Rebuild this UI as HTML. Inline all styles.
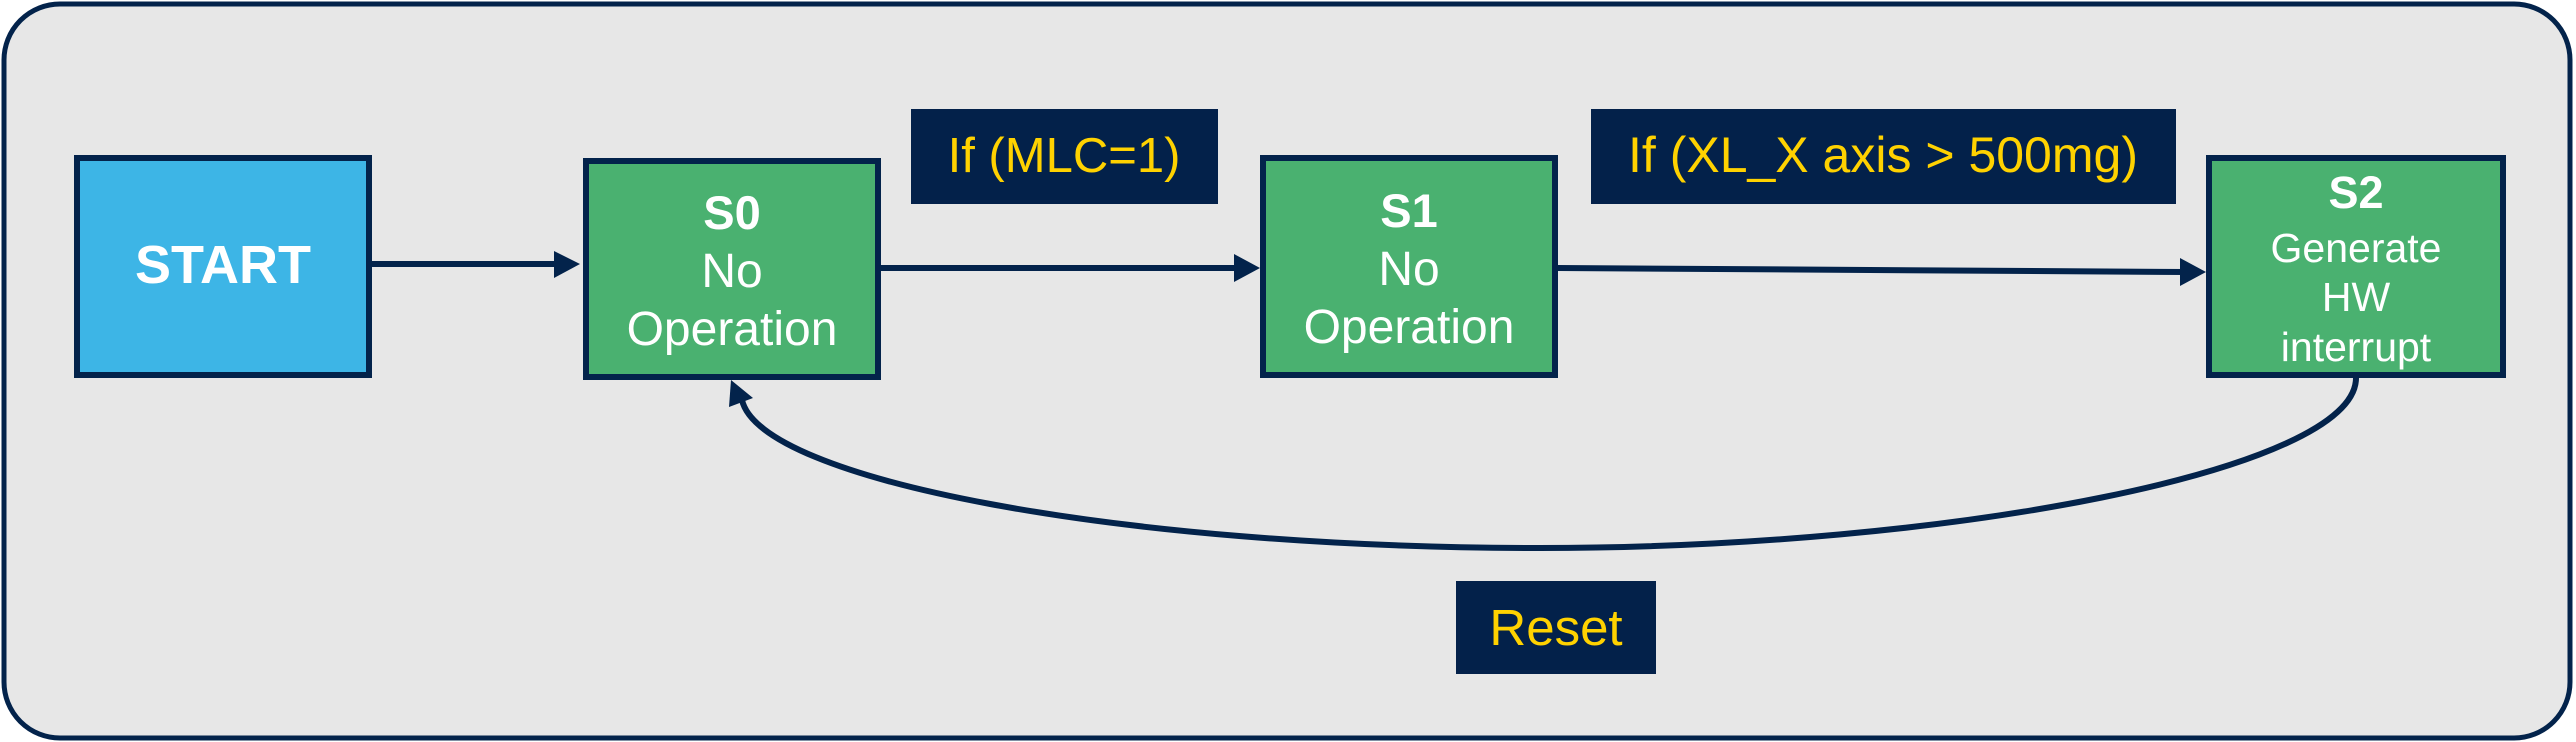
<!DOCTYPE html>
<html><head><meta charset="utf-8"><style>
html,body{margin:0;padding:0;background:#fff;}
svg{display:block;}
text{font-family:"Liberation Sans",Arial,sans-serif;}
</style></head><body>
<svg width="2576" height="742" viewBox="0 0 2576 742" xmlns="http://www.w3.org/2000/svg">
<rect x="4" y="4" width="2566" height="734" rx="56" ry="56" fill="#e7e7e7" stroke="#03234b" stroke-width="5"/>
<rect x="77" y="158" width="292" height="217" fill="#3db5e6" stroke="#03234b" stroke-width="6"/>
<text x="223" y="283" font-size="54" font-weight="bold" fill="#fff" text-anchor="middle">START</text>

<rect x="586" y="161" width="292" height="216" fill="#4ab170" stroke="#03234b" stroke-width="6"/>
<text x="732" y="229" font-size="47" font-weight="bold" fill="#fff" text-anchor="middle">S0</text>
<text x="732" y="287" font-size="48" fill="#fff" text-anchor="middle">No</text>
<text x="732" y="345" font-size="48" fill="#fff" text-anchor="middle">Operation</text>

<rect x="1263" y="158" width="292" height="217" fill="#4ab170" stroke="#03234b" stroke-width="6"/>
<text x="1409" y="227" font-size="47" font-weight="bold" fill="#fff" text-anchor="middle">S1</text>
<text x="1409" y="285" font-size="48" fill="#fff" text-anchor="middle">No</text>
<text x="1409" y="343" font-size="48" fill="#fff" text-anchor="middle">Operation</text>

<rect x="2209" y="158" width="294" height="217" fill="#4ab170" stroke="#03234b" stroke-width="6"/>
<text x="2356" y="208" font-size="45" font-weight="bold" fill="#fff" text-anchor="middle">S2</text>
<text x="2356" y="262" font-size="41" fill="#fff" text-anchor="middle">Generate</text>
<text x="2356" y="311" font-size="41" fill="#fff" text-anchor="middle">HW</text>
<text x="2356" y="361" font-size="41" fill="#fff" text-anchor="middle">interrupt</text>

<rect x="911" y="109" width="307" height="95" fill="#03214a"/>
<text x="1064" y="172" font-size="49" fill="#ffd200" text-anchor="middle">If (MLC=1)</text>
<rect x="1591" y="109" width="585" height="95" fill="#03214a"/>
<text x="1883" y="172" font-size="50" fill="#ffd200" text-anchor="middle">If (XL_X axis &gt; 500mg)</text>
<rect x="1456" y="581" width="200" height="93" fill="#03214a"/>
<text x="1556" y="645" font-size="51" fill="#ffd200" text-anchor="middle">Reset</text>

<g stroke="#03234b" stroke-width="6" fill="none">
<line x1="372" y1="264" x2="562" y2="264"/>
<line x1="881" y1="268" x2="1240" y2="268"/>
<line x1="1558" y1="268" x2="2186" y2="272"/>
<path d="M2356 378 C2356 470 1950 548 1540 548 C1120 548 760 480 742 400"/>
</g>
<g fill="#03234b">
<polygon points="554,251 580,264 554,278"/>
<polygon points="1234,254 1260,268 1234,282"/>
<polygon points="2180,258 2206,272 2180,286"/>
<polygon points="731,380 729,407 753,398"/>
</g>
</svg>
</body></html>
